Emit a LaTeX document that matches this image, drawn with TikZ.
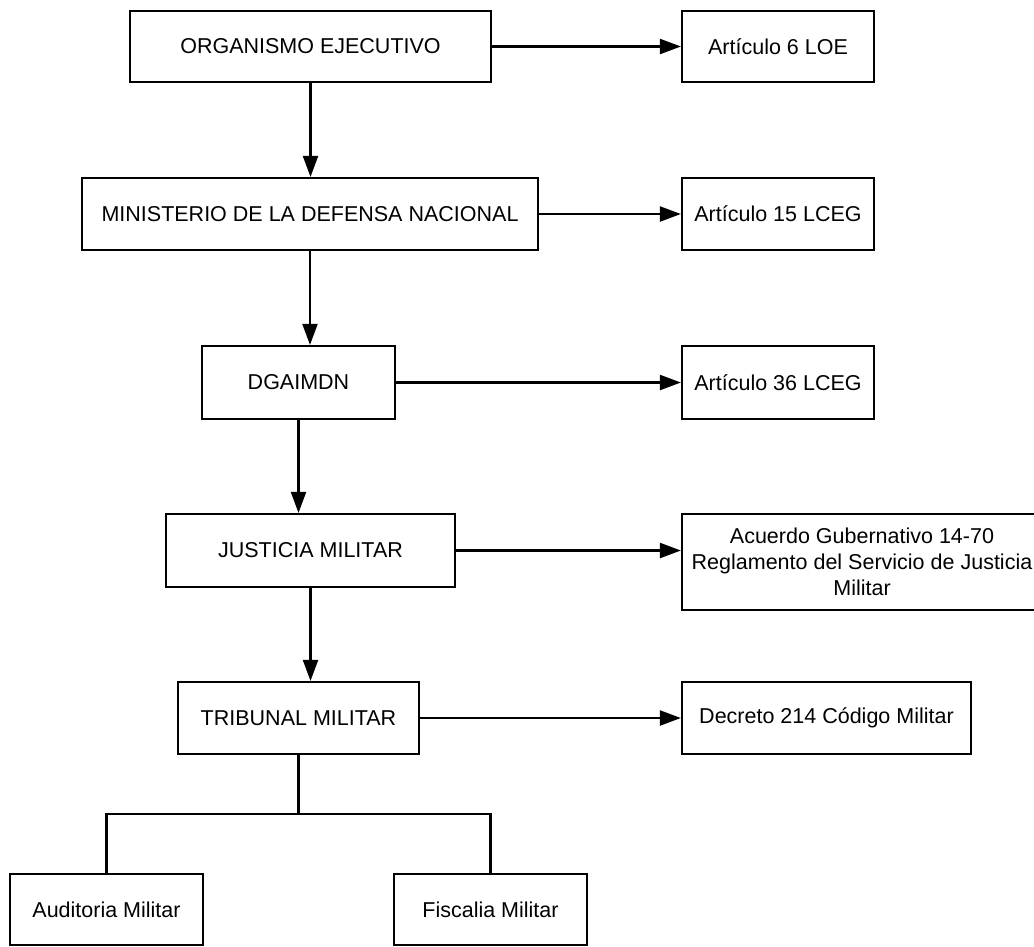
\documentclass[tikz,border=0pt]{standalone}
\usepackage{fontspec}
\setmainfont{Liberation Sans}
\usepackage{tikz}
\usetikzlibrary{arrows.meta}

\begin{document}
\begin{tikzpicture}
	[x=1pt,y=-1pt,line width=2.2pt,
	 every node/.style={draw=black,rectangle,inner sep=0pt,align=center,font=\fontsize{21.5}{26}\selectfont},
	 link/.style={-{Triangle[length=21pt,width=15pt]}}]
	\useasboundingbox (0,0) rectangle (1034,946);
	\node[minimum width=361pt,minimum height=71pt] (oe)   at (310.5,46.5) {ORGANISMO EJECUTIVO};
	\node[minimum width=456pt,minimum height=72pt] (mdn)  at (310,214)    {MINISTERIO DE LA DEFENSA NACIONAL};
	\node[minimum width=193pt,minimum height=73pt] (dga)  at (298.5,382.5) {DGAIMDN};
	\node[minimum width=289pt,minimum height=73pt] (jm)   at (310.5,550.5) {JUSTICIA MILITAR};
	\node[minimum width=241pt,minimum height=72pt] (tm)   at (298.5,718)  {TRIBUNAL MILITAR};
	\node[minimum width=193pt,minimum height=71pt] (aud)  at (106.5,909.5) {Auditoria Militar};
	\node[minimum width=193pt,minimum height=71pt] (fis)  at (490.5,909.5) {Fiscalia Militar};
	
	\node[minimum width=192pt,minimum height=71pt] (art6)  at (778,46.5)   {Artículo 6 LOE};
	\node[minimum width=192pt,minimum height=72pt] (art15) at (778,214)    {Artículo 15 LCEG};
	\node[minimum width=192pt,minimum height=73pt] (art36) at (778,382.5)  {Artículo 36 LCEG};
	\node[minimum width=360pt,minimum height=96pt] (acu)   at (862,562)    {Acuerdo Gubernativo 14-70\\Reglamento del Servicio de Justicia\\Militar};
	\node[minimum width=289pt,minimum height=72pt] (dec)   at (826.5,718)  {Decreto 214 Código Militar};
	
	\foreach \from/\to in {oe/mdn,mdn/dga,dga/jm,jm/tm}
	\draw[link] (\from.south) -- (\from.south |- \to.north);
	
	\foreach \from/\to in {oe/art6,mdn/art15,dga/art36,jm/acu,tm/dec}
	\draw[link] (\from.east) -- (\from.east -| \to.west);
	
	\coordinate (split) at (298.5,814);
	\draw (tm.south) -- (split);
	\draw (aud.north) |- (split) -| (fis.north);
	
\end{tikzpicture}
\end{document}
